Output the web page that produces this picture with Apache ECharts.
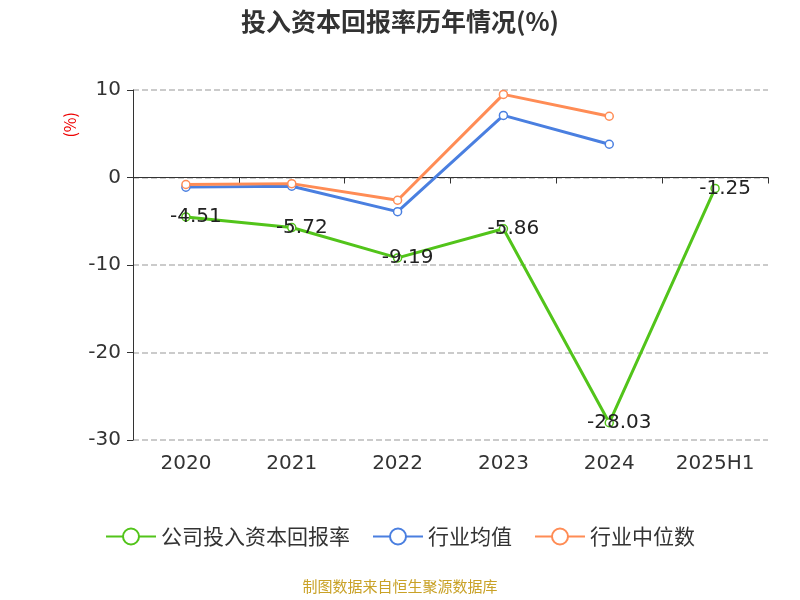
<!DOCTYPE html>
<html><head><meta charset="utf-8">
<script src="https://cdn.jsdelivr.net/npm/echarts@6/dist/echarts.min.js"></script>
<style>html,body{margin:0;padding:0}#c{width:800px;height:600px}</style>
</head><body><div id="c"></div>
<script>
var years = ['2020', '2021', '2022', '2023', '2024', '2025H1'];
var company = [-4.51, -5.72, -9.19, -5.86, -28.03, -1.25];
var industryAvg = [-1.1, -1.0, -3.9, 7.1, 3.8, null];
var industryMid = [-0.8, -0.7, -2.6, 9.5, 7.0, null];

var chart = echarts.init(document.getElementById('c'));
var font = 'Noto Sans CJK SC';
var numFont = 'DejaVu Sans';
function line(name, data, color, label) {
    return {
        name: name, type: 'line', data: data, xAxisIndex: 1,
        symbol: 'circle', symbolSize: 8, connectNulls: false,
        itemStyle: { color: '#fff', borderColor: color, borderWidth: 1.5 },
        lineStyle: { color: color, width: 3 },
        label: label ? {
            show: true, position: 'inside', offset: [10, 0],
            color: '#222', fontSize: 20, fontFamily: numFont
        } : { show: false }
    };
}
chart.setOption({
    textStyle: { fontFamily: font },
    title: {
        text: '投入资本回报率历年情况(%)', left: 'center', top: 4,
        textStyle: { fontSize: 25, fontWeight: 'bold', color: '#333' }
    },
    graphic: [{
        type: 'text', left: 62, top: 112, rotation: Math.PI / 2,
        style: { text: '(%)', fill: '#e00', fontSize: 16, fontFamily: font }
    }, {
        type: 'text', left: 'center', top: 579,
        style: { text: '制图数据来自恒生聚源数据库', fill: '#c9a227', fontSize: 15, fontFamily: font }
    }],
    legend: {
        bottom: 48, itemWidth: 50, itemHeight: 20, itemGap: 22,
        textStyle: { fontSize: 21, color: '#333' },
        data: ['公司投入资本回报率', '行业均值', '行业中位数']
    },
    grid: { left: 133, right: 32, top: 90, bottom: 160 },
    xAxis: [{
        type: 'category', data: years, position: 'bottom',
        axisLine: { show: false }, axisTick: { show: false },
        axisLabel: { fontSize: 20, color: '#333', margin: 14, fontFamily: numFont }
    }, {
        type: 'category', data: years, position: 'bottom', offset: -262.5,
        axisLine: { onZero: false, lineStyle: { color: '#333' } },
        axisTick: { show: true, length: 6, inside: false },
        axisLabel: { show: false }
    }],
    yAxis: {
        type: 'value', min: -30, max: 10, interval: 10,
        axisLine: { show: true, lineStyle: { color: '#333' } },
        axisTick: { show: true, length: 6 },
        axisLabel: { fontSize: 20, color: '#333', margin: 12, fontFamily: numFont },
        splitLine: { lineStyle: { type: 'dashed', color: '#bbb', width: 1.5 } }
    },
    series: [
        line('公司投入资本回报率', company, '#52c41a', true),
        line('行业均值', industryAvg, '#4a7fe0', false),
        line('行业中位数', industryMid, '#ff8c55', false)
    ]
});
</script></body></html>
